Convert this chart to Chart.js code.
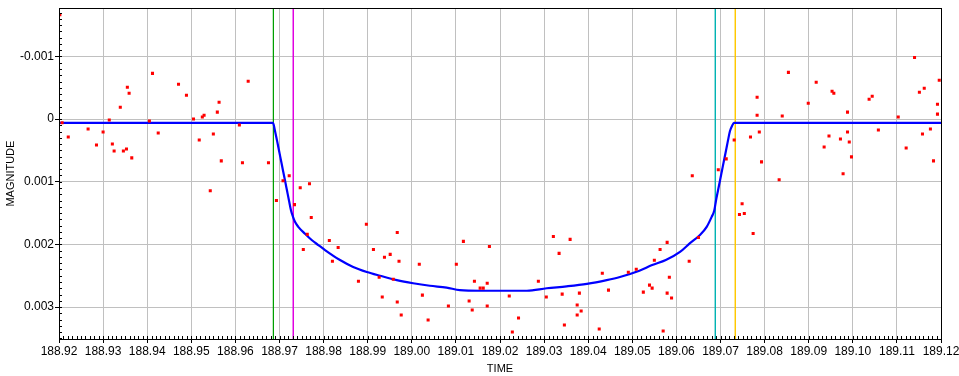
<!DOCTYPE html>
<html>
<head>
<meta charset="utf-8">
<script src="https://cdn.jsdelivr.net/npm/chart.js@4.4.1/dist/chart.umd.min.js"></script>
<style>
  html, body { margin: 0; padding: 0; background: #fff; }
  #wrap { width: 959px; height: 376px; }
</style>
</head>
<body>
<div id="wrap"><canvas id="lc" width="959" height="376"></canvas></div>
<script>
// observed points (time, magnitude)
const obsTime = [188.9202, 188.9207, 188.9221, 188.9266, 188.9285, 188.9300, 188.9314, 188.9321, 188.9325, 188.9339,
  188.9346, 188.9353, 188.9355, 188.9359, 188.9365, 188.9405, 188.9412, 188.9425, 188.9471, 188.9489,
  188.9505, 188.9518, 188.9525, 188.9529, 188.9543, 188.9550, 188.9559, 188.9563, 188.9568, 188.9609,
  188.9616, 188.9629, 188.9675, 188.9693, 188.9708, 188.9722, 188.9734, 188.9747, 188.9754, 188.9763,
  188.9768, 188.9772, 188.9813, 188.9820, 188.9833, 188.9879, 188.9897, 188.9913, 188.9926, 188.9933,
  188.9938, 188.9951, 188.9958, 188.9967, 188.9967, 188.9971, 188.9976, 189.0017, 189.0024, 189.0037,
  189.0083, 189.0101, 189.0117, 189.0130, 189.0137, 189.0142, 189.0155, 189.0162, 189.0171, 189.0171,
  189.0176, 189.0221, 189.0228, 189.0242, 189.0287, 189.0305, 189.0321, 189.0334, 189.0341, 189.0346,
  189.0359, 189.0375, 189.0375, 189.0380, 189.0384, 189.0425, 189.0432, 189.0446, 189.0491, 189.0509,
  189.0525, 189.0539, 189.0545, 189.0550, 189.0563, 189.0570, 189.0579, 189.0579, 189.0584, 189.0589,
  189.0629, 189.0636, 189.0650, 189.0695, 189.0713, 189.0731, 189.0743, 189.0749, 189.0754, 189.0768,
  189.0774, 189.0783, 189.0783, 189.0788, 189.0793, 189.0833, 189.0840, 189.0854, 189.0899, 189.0917,
  189.0935, 189.0946, 189.0953, 189.0957, 189.0972, 189.0978, 189.0988, 189.0988, 189.0992, 189.0997,
  189.1037, 189.1044, 189.1058, 189.1103, 189.1121, 189.1140, 189.1151, 189.1158, 189.1162, 189.1176,
  189.1183, 189.1192, 189.1192, 189.1196];
const obsMag = [-0.001665, 0.00006, 0.000286, 0.000159, 0.000413, 0.000206, 0.000016, 0.000397, 0.000508, -0.00019,
  0.000508, 0.000476, -0.000508, -0.000413, 0.000619, 0.000032, -0.00073, 0.000222, -0.000556, -0.00038,
  0.0, 0.000333, -0.000032, -0.000063, 0.001143, 0.000238, -0.000111, -0.00027, 0.000667, 0.000095,
  0.000698, -0.000603, 0.000698, 0.0013, 0.000984, 0.000905, 0.001365, 0.001095, 0.00208, 0.00184,
  0.001032, 0.00157, 0.001937, 0.00227, 0.002048, 0.002587, 0.00168, 0.00208, 0.002524, 0.00284,
  0.002206, 0.002159, 0.002556, 0.00181, 0.00292, 0.00227, 0.003127, 0.002317, 0.00281, 0.003206,
  0.002984, 0.002317, 0.001952, 0.002905, 0.003048, 0.002587, 0.002698, 0.002698, 0.002619, 0.002984,
  0.002032, 0.002825, 0.003397, 0.003175, 0.002587, 0.00284, 0.001873, 0.002143, 0.002794, 0.003286,
  0.00192, 0.002968, 0.003127, 0.002778, 0.003063, 0.00335, 0.00246, 0.00273, 0.002444, 0.002397,
  0.002762, 0.00265, 0.002698, 0.002254, 0.00208, 0.003381, 0.001968, 0.002778, 0.002524, 0.002857,
  0.00227, 0.000905, 0.001889, 0.00081, 0.000635, 0.000333, 0.001524, 0.00135, 0.001508, 0.000286,
  0.001825, -0.000349, -0.000063, 0.000206, 0.000683, 0.000968, -0.000048, -0.000746, -0.000254, -0.000587,
  0.000444, 0.00027, -0.000444, -0.000413, 0.000317, 0.000873, -0.000111, 0.000206, 0.000365, 0.000603,
  -0.000317, -0.000365, 0.000175, -0.000032, 0.00046, -0.000984, -0.000429, 0.000238, -0.000492, 0.000159,
  0.000667, -0.000238, -0.000079, -0.000619];

// fitted model curve
const modelTime = [188.920, 188.96853, 188.96898, 188.96943, 188.96989, 188.97034, 188.97079, 188.97125, 188.97170, 188.97215,
  188.97261, 188.97306, 188.97351, 188.97426, 188.97578, 188.97730, 188.97880, 188.98032, 188.98372, 188.98670,
  188.98980, 188.99280, 188.99660, 189.00030, 189.00410, 189.00790, 189.01090, 189.01550, 189.02000, 189.02610,
  189.03060, 189.03510, 189.03970, 189.04420, 189.04720, 189.05160, 189.05450, 189.05760, 189.06082, 189.06308,
  189.06535, 189.06687, 189.06800, 189.06859, 189.06898, 189.06943, 189.06989, 189.07034, 189.07079, 189.07125,
  189.07170, 189.07215, 189.07261, 189.07306, 189.120];
const modelMag = [0.00006, 0.00006, 0.00019, 0.00034, 0.00050, 0.00066, 0.00082, 0.00098, 0.00114, 0.00130,
  0.00146, 0.00156, 0.00164, 0.00172, 0.00183, 0.00193, 0.00201, 0.00209, 0.00225, 0.00236,
  0.00244, 0.00250, 0.00257, 0.00262, 0.00266, 0.00269, 0.00273, 0.00274, 0.00274, 0.00274,
  0.00270, 0.00267, 0.00263, 0.00257, 0.00252, 0.00242, 0.00233, 0.00225, 0.00212, 0.00198,
  0.00185, 0.00172, 0.00156, 0.00146, 0.00130, 0.00114, 0.00098, 0.00082, 0.00066, 0.00050,
  0.00034, 0.00019, 0.00011, 0.00006, 0.00006];

// contact markers
const contactTimes = [188.96862, 188.97313, 189.06883, 189.07336];
const contactColors = ['#00a000', '#e000e0', '#00b4b4', '#ffc800'];

const xTicks = [188.92, 188.93, 188.94, 188.95, 188.96, 188.97, 188.98, 188.99, 189.00, 189.01, 189.02,
  189.03, 189.04, 189.05, 189.06, 189.07, 189.08, 189.09, 189.10, 189.11, 189.12];
const yTicks = [-0.001, 0, 0.001, 0.002, 0.003];
const xMin = 188.92, xMax = 189.12, yMin = -0.00177, yMax = 0.00351;
const xMinorStep = 0.001, yMinorStep = 0.0001;

const font = { family: "'Liberation Sans', Arial, sans-serif", size: 12 };
const titleFont = { family: "'Liberation Sans', Arial, sans-serif", size: 11 };

const datasets = [];
datasets.push({
  label: 'obs',
  data: obsTime.map((t, i) => ({ x: t, y: obsMag[i] })),
  showLine: false,
  pointStyle: 'rect',
  pointRadius: 2.15,
  pointBorderWidth: 0,
  pointBackgroundColor: '#ff0000',
  order: 1
});
datasets.push({
  label: 'model',
  data: modelTime.map((t, i) => ({ x: t, y: modelMag[i] })),
  showLine: true,
  borderColor: '#0000ff',
  borderWidth: 2.2,
  pointRadius: 0,
  cubicInterpolationMode: 'monotone',
  order: 2
});
contactTimes.forEach((t, i) => {
  datasets.push({
    label: 'c' + (i + 1),
    data: [{ x: t, y: yMin }, { x: t, y: yMax }],
    showLine: true,
    borderColor: contactColors[i],
    borderWidth: 1,
    pointRadius: 0,
    order: 3
  });
});

const frame = {
  id: 'frame',
  afterDatasetsDraw(chart) {
    const { ctx, chartArea: a, scales: { x, y } } = chart;
    ctx.save();
    ctx.strokeStyle = '#000';
    ctx.lineWidth = 1;
    ctx.beginPath();
    // minor ticks, inside the plot
    for (let v = xMin; v <= xMax + 1e-9; v += xMinorStep) {
      const px = Math.round(x.getPixelForValue(v)) + 0.5;
      ctx.moveTo(px, a.bottom);
      ctx.lineTo(px, a.bottom - 3);
    }
    for (let v = Math.ceil(yMin / yMinorStep) * yMinorStep; v <= yMax; v += yMinorStep) {
      const py = Math.round(y.getPixelForValue(v)) + 0.5;
      ctx.moveTo(a.left, py);
      ctx.lineTo(a.left + 3, py);
    }
    ctx.stroke();
    ctx.strokeRect(Math.round(a.left) + 0.5, Math.round(a.top) + 0.5,
      Math.round(a.right - a.left), Math.round(a.bottom - a.top));
    ctx.restore();
  }
};

new Chart(document.getElementById('lc'), {
  type: 'scatter',
  data: { datasets },
  options: {
    responsive: false,
    animation: false,
    layout: { padding: { top: 7, right: 18, left: 0, bottom: 0 } },
    plugins: { legend: { display: false }, tooltip: { enabled: false } },
    scales: {
      x: {
        type: 'linear',
        min: xMin,
        max: xMax,
        afterBuildTicks: s => { s.ticks = xTicks.map(v => ({ value: v })); },
        afterFit: s => { s.height = 37; s.paddingLeft = 0; s.paddingRight = 0; },
        ticks: {
          autoSkip: false, maxRotation: 0, minRotation: 0,
          color: '#000', font, padding: 1,
          callback: v => Number(v).toFixed(2)
        },
        grid: { color: '#c0c0c0', tickColor: '#000', tickLength: 4, lineWidth: 1 },
        border: { display: true, color: '#000' },
        title: { display: true, text: 'TIME', color: '#000', font: titleFont, padding: { top: 0, bottom: 0 } }
      },
      y: {
        type: 'linear',
        reverse: true,
        min: yMin,
        max: yMax,
        afterBuildTicks: s => { s.ticks = yTicks.map(v => ({ value: v })); },
        afterFit: s => { s.width = 59; },
        ticks: {
          color: '#000', font, padding: 1,
          callback: v => (v === 0 ? '0' : Number(v).toFixed(3))
        },
        grid: { color: '#c0c0c0', tickColor: '#000', tickLength: 4, lineWidth: 1 },
        border: { display: true, color: '#000' },
        title: { display: true, text: 'MAGNITUDE', color: '#000', font: titleFont, padding: { top: 4, bottom: 0 } }
      }
    }
  },
  plugins: [frame]
});
</script>
</body>
</html>
